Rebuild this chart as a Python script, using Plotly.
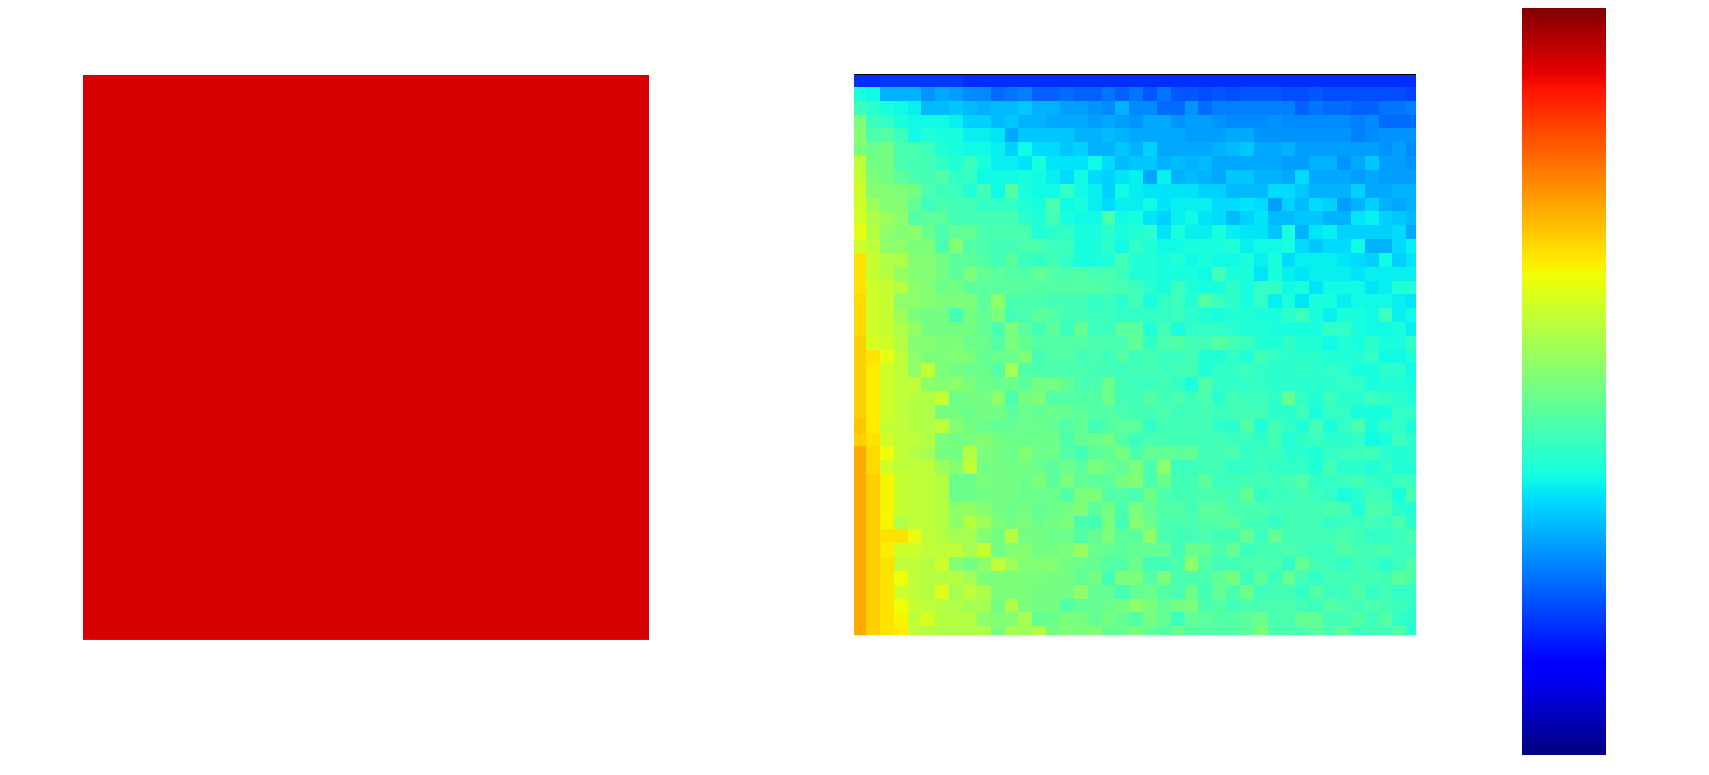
import numpy as np
import plotly.graph_objects as go

# --- data (colour-scale position, in hundredths) ---
left_value = [[92.6]]

heat_left = [
[17,17,18,18,18,18,18,18,17,17,17,17,17,17,17,17,17,17,17,17],
[38,37,30,30,30,27,29,28,26,26,23,24,25,22,22,23,22,22,24,22],
[42,40,38,37,36,31,31,32,31,30,31,31,32,30,30,28,28,27,26,30],
[50,42,41,38,37,37,37,36,33,33,31,32,30,30,29,29,29,28,29,28],
[51,44,45,42,37,39,38,38,36,36,35,29,32,32,32,32,30,30,31,30],
[50,48,49,44,44,42,39,38,37,37,36,33,37,34,34,32,33,30,30,32],
[58,49,49,44,43,43,41,39,42,38,36,36,35,38,35,35,35,37,34,31],
[59,50,49,46,44,43,45,41,41,37,37,37,38,37,36,34,37,34,33,35],
[60,51,51,50,49,44,42,42,39,43,37,45,38,37,37,41,37,36,33,37],
[60,54,51,51,47,42,44,43,43,41,41,41,39,38,44,37,38,36,34,36],
[61,56,54,52,45,46,46,43,43,43,43,43,40,39,43,38,37,37,44,37],
[63,57,52,51,52,48,44,47,47,44,44,44,44,39,40,41,38,38,40,38],
[60,58,52,52,50,50,44,51,45,44,43,43,44,44,42,42,38,38,40,37],
[67,59,56,56,51,51,49,46,46,45,43,46,42,41,43,41,38,38,39,43],
[67,59,57,53,51,51,49,46,50,47,46,45,45,47,45,44,45,44,44,42],
[67,60,59,57,52,51,48,49,46,46,46,46,46,45,45,45,45,45,44,44],
[68,60,59,52,52,51,50,50,50,46,52,44,44,44,43,43,43,41,42,40],
[68,60,59,54,50,49,49,43,49,47,50,43,44,46,45,43,43,42,42,41],
[68,60,59,56,53,49,49,49,49,47,44,50,46,43,46,42,47,42,42,46],
[69,61,60,57,51,51,50,50,48,48,45,50,47,45,45,45,45,44,44,44],
[69,67,63,58,52,50,50,51,50,47,48,48,50,43,45,45,43,44,42,45],
[69,66,60,58,52,59,50,49,48,48,45,55,45,44,44,44,44,43,43,42],
[69,66,60,58,58,52,51,52,50,48,48,48,46,49,49,47,44,44,48,43],
[69,66,60,58,57,56,59,48,49,49,52,44,49,50,45,45,45,45,48,43],
[69,66,60,58,57,56,49,49,48,49,49,46,48,47,48,47,46,45,45,44],
[70,66,59,58,57,56,58,51,49,48,47,47,48,48,47,45,47,43,45,46],
[69,67,60,58,58,57,50,49,50,51,49,48,48,48,48,44,47,48,49,45],
[73,68,64,58,57,55,49,49,57,50,49,48,51,48,48,45,43,46,47,49],
[73,68,60,58,58,58,54,51,58,49,49,49,49,48,46,48,46,50,48,47],
[73,69,65,59,58,58,57,48,48,50,49,49,48,50,46,50,47,46,46,49],
[73,69,65,59,58,58,57,48,48,49,49,49,48,48,48,45,50,50,45,45],
[73,69,65,59,58,58,57,52,53,51,49,48,49,47,48,49,50,46,49,44],
[73,69,65,56,58,58,57,52,57,54,50,49,50,48,49,50,44,43,50,43],
[73,69,67,67,63,58,57,55,55,51,49,57,49,49,48,48,45,47,50,46],
[73,69,66,60,60,58,58,58,55,59,49,51,51,49,49,50,53,48,47,46],
[73,69,67,58,58,57,60,51,49,52,58,54,51,51,51,49,48,47,45,45],
[73,69,67,64,58,57,57,57,55,50,50,50,50,50,49,49,47,49,43,50],
[73,69,67,60,58,57,62,55,58,56,50,50,50,49,49,49,52,47,47,43],
[73,69,67,64,59,58,57,56,55,55,49,56,50,49,49,45,47,47,48,49],
[73,69,67,65,58,61,57,57,57,52,51,51,55,47,48,50,49,47,49,47],
[73,69,67,66,58,57,56,56,56,56,49,55,54,57,49,51,50,51,47,48],
]

heat_right = [
[17,17,17,17,17,17,17,17,17,17,17,17,17,17,17,17,17,17,17,17,17],
[24,21,24,21,21,20,21,20,21,21,21,20,20,21,20,20,20,20,20,20,19],
[26,26,23,23,27,23,25,25,25,25,25,25,22,24,23,23,22,22,24,24,25],
[27,29,29,27,28,28,27,26,26,26,27,26,26,26,26,26,25,26,23,23,23],
[29,29,29,29,28,28,28,29,29,27,27,27,27,27,27,27,25,26,27,27,27],
[30,33,29,29,29,29,30,31,32,29,29,30,28,28,28,28,28,28,27,28,26],
[32,32,30,31,30,31,29,29,29,29,29,28,28,30,30,27,29,32,28,28,27],
[36,29,36,30,31,30,29,32,32,30,30,29,34,29,29,29,28,29,28,28,28],
[36,35,35,35,35,33,33,31,31,31,34,34,32,30,30,30,33,29,29,30,30],
[36,37,35,36,36,36,34,34,35,34,28,33,31,34,33,28,30,33,30,29,30],
[38,35,33,36,37,35,34,31,33,35,31,31,32,32,30,30,35,36,33,32,31],
[39,40,35,38,36,36,38,36,35,35,32,38,30,35,36,33,33,33,33,34,29],
[41,39,37,37,38,38,38,39,36,37,37,38,34,32,34,34,37,30,30,34,36],
[39,39,38,39,37,38,37,37,38,36,38,34,36,36,36,35,34,33,37,33,35],
[39,39,38,38,38,37,43,38,38,35,38,36,35,36,36,36,35,36,36,36,36],
[42,40,38,42,39,38,38,41,38,41,41,37,38,35,37,37,37,35,36,39,39],
[43,38,41,42,39,45,42,40,38,41,36,38,35,38,38,36,37,37,37,36,35],
[41,41,41,42,40,39,38,39,39,38,38,40,42,38,36,38,38,37,42,36,37],
[46,39,43,38,41,41,41,40,39,39,38,38,38,38,41,41,38,37,37,38,36],
[47,41,44,45,43,43,45,43,42,39,39,41,39,39,37,39,38,40,38,38,41],
[42,43,42,42,43,39,39,41,39,43,41,40,40,40,39,39,39,41,37,37,39],
[43,43,42,43,43,39,41,41,42,41,40,40,41,40,41,40,38,38,40,40,37],
[42,42,43,41,38,45,41,41,41,41,40,40,40,40,40,41,41,38,39,39,38],
[43,45,43,44,42,44,40,43,42,42,41,47,41,39,42,40,40,42,41,40,39],
[43,43,44,42,43,43,42,43,43,43,40,40,42,38,41,41,38,38,38,41,41],
[46,41,43,43,43,43,41,40,45,39,43,41,39,43,38,41,44,38,41,41,38],
[42,44,43,43,43,42,43,42,42,41,43,39,41,42,40,40,41,37,38,42,40],
[44,47,47,46,47,43,43,44,41,42,42,40,40,39,41,42,42,43,40,39,40],
[50,44,52,42,42,43,43,41,41,42,41,41,41,39,43,40,40,39,41,39,39],
[51,44,48,43,43,46,42,42,43,43,42,43,45,41,41,42,43,41,40,42,42],
[44,48,44,43,43,44,44,43,47,41,42,42,43,42,41,38,40,43,42,38,44],
[50,47,45,45,43,46,46,44,44,44,43,43,43,43,44,43,39,44,44,40,39],
[51,48,44,44,44,45,45,46,43,43,41,43,43,43,41,42,42,43,42,44,40],
[46,52,44,43,43,44,43,43,47,42,47,43,43,43,43,44,43,41,41,42,44],
[47,47,47,43,48,47,44,47,42,43,43,44,43,42,42,45,43,43,44,42,42],
[48,43,43,44,52,45,43,43,44,44,44,41,47,43,42,41,43,42,40,42,45],
[50,45,50,44,44,44,47,49,42,46,42,47,43,41,43,43,43,43,43,46,44],
[47,48,45,44,48,43,47,44,48,42,43,43,41,45,42,42,45,41,43,41,41],
[52,50,47,49,50,44,45,43,44,44,44,44,43,42,45,44,43,44,43,42,41],
[45,49,47,42,47,46,45,45,46,48,44,44,47,47,43,43,45,42,45,41,40],
[50,47,45,48,45,45,45,45,46,50,44,44,44,46,44,47,42,43,43,45,40],
]

# --- styling / layout ---
R = [(0, 0), (.35, 0), (.66, 1), (.89, 1), (1, .5)]
G = [(0, 0), (.125, 0), (.375, 1), (.64, 1), (.91, 0), (1, 0)]
B = [(0, .5), (.11, 1), (.34, 1), (.65, 0), (1, 0)]
stops = sorted({p for ch in (R, G, B) for p, _ in ch})


def ch(c, v):
    return int(round(255 * np.interp(v, [p for p, _ in c], [q for _, q in c])))


jet = [[s, f"rgb({ch(R, s)},{ch(G, s)},{ch(B, s)})"] for s in stops]

OFF = 8  # default page margin around the figure
W, H = 1693, 759


def fx(px):
    return (px - OFF) / W


def fy(py):
    return 1 - (py - OFF) / H


heat = (np.array([a + b for a, b in zip(heat_left, heat_right)]) / 100).tolist()

fig = go.Figure()
fig.add_trace(go.Heatmap(z=(np.array(left_value) / 100).tolist(), colorscale=jet, zmin=0, zmax=1,
                         showscale=False, xaxis="x", yaxis="y"))
fig.add_trace(go.Heatmap(z=heat, colorscale=jet, zmin=0, zmax=1, xaxis="x2", yaxis="y2",
                         colorbar=dict(x=fx(1522), xanchor="left", y=fy(7), yanchor="top",
                                       lenmode="pixels", len=748, thicknessmode="pixels", thickness=84,
                                       xpad=0, ypad=0, outlinewidth=0, borderwidth=0,
                                       ticks="", showticklabels=False)))

hidden = dict(showgrid=False, zeroline=False, showticklabels=False, ticks="")
fig.update_layout(
    width=W, height=H, margin=dict(l=0, r=0, t=0, b=0),
    paper_bgcolor="white", plot_bgcolor="white", showlegend=False,
    xaxis=dict(domain=[fx(83), fx(649)], range=[-.5, .5], **hidden),
    yaxis=dict(domain=[fy(640), fy(74)], range=[-.5, .5], **hidden),
    xaxis2=dict(domain=[fx(854), fx(1416)], range=[-.366, 40.22], anchor="y2", side="top",
                showline=True, linecolor="black", linewidth=1, **hidden),
    yaxis2=dict(domain=[fy(635), fy(74)], range=[40.14, -.366], anchor="x2", **hidden),
)
fig.write_html("out.html")
